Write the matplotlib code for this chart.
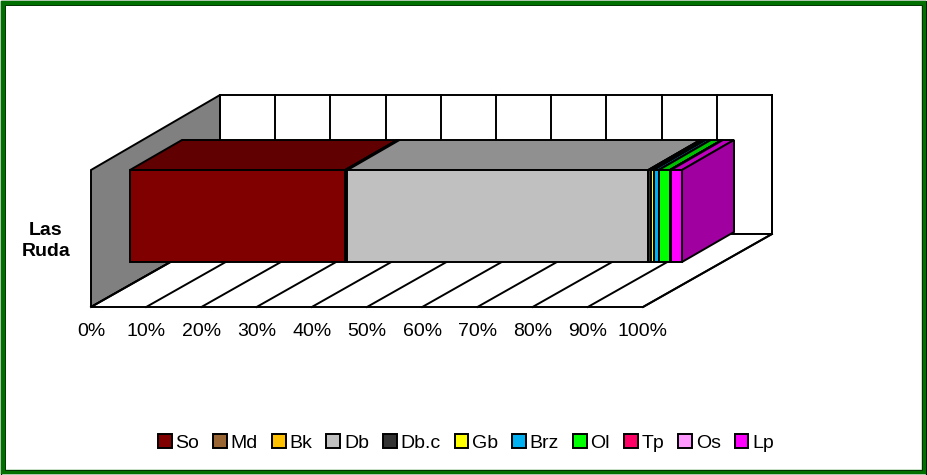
#!/usr/bin/env python
"""Las Ruda: 3D stacked 100% bar, drawn by hand in pixel coords of the figure."""
import matplotlib
matplotlib.use("Agg")
import matplotlib.pyplot as plt
from matplotlib.patches import Polygon, Rectangle, Patch

categories = ["So", "Md", "Bk", "Db", "Db.c", "Gb", "Brz", "Ol", "Tp", "Os", "Lp"]
values = [39.0, 0.2, 0.2, 54.5, 0.4, 0.6, 0.9, 2.0, 0.1, 0.1, 2.0]
colors = ["#800000", "#996633", "#FFC000", "#C0C0C0", "#333333", "#FFFF00",
          "#00B0F0", "#00FF00", "#FF0066", "#FF99FF", "#FF00FF"]
ticks = [0, 10, 20, 30, 40, 50, 60, 70, 80, 90, 100]
row_label = "Las\nRuda"

plt.rcParams["font.family"] = ["Liberation Sans", "DejaVu Sans"]
W, H = 927, 475
X0, X100 = 91, 643      # передний край пола
FLOOR_Y = 307
DX, DY = 129, -73       # глубина стенок
WALL_TOP, BACK_TOP = 170, 95
BAR_X0, BAR_BOTTOM, BAR_TOP = 130, 262, 170
BAR_DX, BAR_DY = 52, -30
PX = (X100 - X0) / 100.0
LW = 1.4


def shade(c, k):
    r, g, b = matplotlib.colors.to_rgb(c)
    return (r * k, g * k, b * k)


def poly(ax, pts, fc, z=1):
    ax.add_patch(Polygon(pts, closed=True, fc=fc, ec="black", lw=LW, joinstyle="miter", zorder=z))


fig = plt.figure(figsize=(W / 100, H / 100), dpi=100)
ax = fig.add_axes([0, 0, 1, 1])
ax.set_xlim(0, W); ax.set_ylim(H, 0); ax.axis("off")

# рамка
ax.add_patch(Rectangle((0.5, 0.5), W - 1, H - 1, fc="none", ec="black", lw=0.9))
ax.add_patch(Rectangle((3, 3), W - 6, H - 6, fc="none", ec="#007000", lw=3.2))
ax.add_patch(Rectangle((5.2, 5.2), W - 10.4, H - 10.4, fc="none", ec="#003000", lw=0.7))

# стенки и пол
poly(ax, [(X0, WALL_TOP), (X0 + DX, BACK_TOP), (X0 + DX, FLOOR_Y + DY), (X0, FLOOR_Y)], "#808080")
poly(ax, [(X0 + DX, BACK_TOP), (X100 + DX, BACK_TOP), (X100 + DX, FLOOR_Y + DY), (X0 + DX, FLOOR_Y + DY)], "white")
poly(ax, [(X0, FLOOR_Y), (X0 + DX, FLOOR_Y + DY), (X100 + DX, FLOOR_Y + DY), (X100, FLOOR_Y)], "white")
for t in ticks:
    x = X0 + t * PX
    ax.plot([x, x + DX], [FLOOR_Y, FLOOR_Y + DY], color="black", lw=LW, zorder=2)
    ax.plot([x + DX, x + DX], [FLOOR_Y + DY, BACK_TOP], color="black", lw=LW, zorder=2)
    ax.text(x, 331, f"{t}%", ha="center", va="center", fontsize=14, color="black")

# сегменты полосы, слева направо: следующий закрывает бок предыдущего
left = 0.0
for val, col in zip(values, colors):
    x1 = BAR_X0 + left * PX
    x2 = BAR_X0 + (left + val) * PX
    poly(ax, [(x1, BAR_TOP), (x1 + BAR_DX, BAR_TOP + BAR_DY), (x2 + BAR_DX, BAR_TOP + BAR_DY), (x2, BAR_TOP)], shade(col, 0.75), z=3)
    poly(ax, [(x2, BAR_TOP), (x2 + BAR_DX, BAR_TOP + BAR_DY), (x2 + BAR_DX, BAR_BOTTOM + BAR_DY), (x2, BAR_BOTTOM)], shade(col, 0.63), z=3)
    poly(ax, [(x1, BAR_TOP), (x2, BAR_TOP), (x2, BAR_BOTTOM), (x1, BAR_BOTTOM)], col, z=3)
    left += val

ax.text(46, 241, row_label, ha="center", va="center", fontsize=14, fontweight="bold",
        linespacing=1.35, color="black")

handles = [Patch(fc=c, ec="black", lw=1.4) for c in colors]
ax.legend(handles, categories, ncols=len(categories), frameon=False, fontsize=14,
          loc="center", bbox_to_anchor=(466 / W, 1 - 443 / H), handlelength=0.7,
          handleheight=0.7, handletextpad=0.2, columnspacing=0.72, borderpad=0)

fig.savefig("out.png", dpi=100)
